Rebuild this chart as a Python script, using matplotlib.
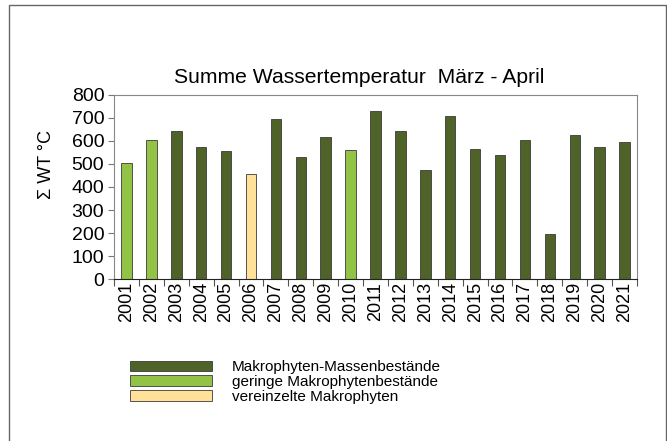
import matplotlib
matplotlib.use("Agg")
import matplotlib.pyplot as plt
from matplotlib.patches import Patch, Rectangle

plt.rcParams['font.family'] = ['Liberation Sans', 'DejaVu Sans']

years = [str(y) for y in range(2001, 2022)]
sums = [505, 605, 641, 573, 556, 456, 696, 528, 616, 559,
        729, 645, 473, 708, 564, 538, 605, 194, 627, 573, 595]
# 0 = Massenbestände, 1 = geringe Bestände, 2 = vereinzelt
status = [1, 1, 0, 0, 0, 2, 0, 0, 0, 1,
          0, 0, 0, 0, 0, 0, 0, 0, 0, 0, 0]
labels = ['Makrophyten-Massenbestände', 'geringe Makrophytenbestände',
          'vereinzelte Makrophyten']
colors = ['#4F6228', '#92C347', '#FFE199']

fig = plt.figure(figsize=(6.67, 4.41), dpi=100)
ax = fig.add_axes([0.171, 0.367, 0.784, 0.418])

x = range(len(years))
ax.bar(x, sums, width=0.42, color=[colors[s] for s in status],
       edgecolor='#3a3a3a', linewidth=0.6)

ax.set_xlim(-0.5, len(years) - 0.5)
ax.set_ylim(0, 800)
ax.set_yticks(range(0, 801, 100))
# ticks between the bars, year labels under the bars
ax.set_xticks([i + 0.5 for i in range(-1, len(years))])
ax.set_xticklabels([])
ax.set_xticks(list(x), minor=True)
ax.set_xticklabels(years, minor=True, rotation=90, fontsize=13)
ax.tick_params(axis='x', which='major', direction='out', length=5, color='#555555')
ax.tick_params(axis='x', which='minor', length=0, pad=2)
ax.tick_params(axis='y', direction='out', length=4, color='#777777', labelsize=14, pad=3)

for side in ['top', 'right', 'left']:
    ax.spines[side].set_color('#888888')
ax.spines['bottom'].set_color('#222222')

fig.text(0.538, 0.812, 'Summe Wassertemperatur  März - April', fontsize=15.2,
         ha='center', va='baseline')
ax.set_ylabel('Σ WT °C', fontsize=13)
ax.yaxis.set_label_coords(-0.112, 0.62)

handles = [Patch(facecolor=c, edgecolor='#3a3a3a', linewidth=0.6) for c in colors]
fig.legend(handles, labels, loc='upper left', bbox_to_anchor=(0.185, 0.197),
           frameon=False, fontsize=11, handlelength=5.4, handleheight=0.68,
           labelspacing=0.05, handletextpad=1.3, borderaxespad=0)

# outer border around the chart
fig.patches.append(Rectangle((0.0135, -0.05), 0.985, 1.0387, transform=fig.transFigure,
                             fill=False, edgecolor='#666666', linewidth=1.0))

fig.savefig('out.png', dpi=100)
